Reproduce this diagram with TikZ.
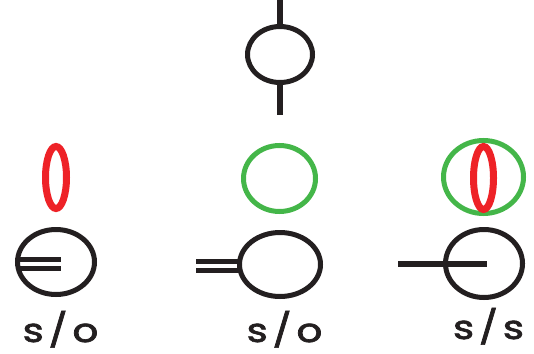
\documentclass[tikz,border=0pt]{standalone}
\usepackage{fontspec}
\setmainfont{Poppins}
\usetikzlibrary{shapes.geometric}
\definecolor{myred}{HTML}{EE2227}
\definecolor{mygreen}{HTML}{44B649}
\definecolor{myblack}{HTML}{231F20}
\newcommand{\widelbl}[1]{\scalebox{1.22}[1]{#1}}
\tikzset{
  ring/.style={ellipse, draw=myblack, line width=5pt, inner sep=0pt, outer sep=0pt},
  greenring/.style={ellipse, draw=mygreen, line width=5pt, inner sep=0pt, outer sep=0pt},
  redring/.style={ellipse, draw=myred, line width=7pt, inner sep=0pt, outer sep=0pt},
  wire/.style={draw=myblack, line width=5.5pt},
  lbl/.style={inner sep=0pt, anchor=base, font=\fontsize{33}{33}\selectfont\addfontfeature{FakeBold=2,LetterSpace=12}, text=myblack}
}
\begin{document}
\begin{tikzpicture}[x=1pt,y=-1pt]
\useasboundingbox (0,0) rectangle (534,353);
% top ellipse with stalk
\node[ring, minimum width=65pt, minimum height=56pt] (top) at (280,54.5) {};
\coordinate (topin) at (280,0);
\coordinate (topout) at (280,115);
\draw[wire] (topin) -- (top.north);
\draw[wire] (top.south) -- (topout);
% left column
\node[redring, minimum width=21pt, minimum height=62pt] (lred) at (56,177.5) {};
\node[ring, minimum width=77pt, minimum height=65pt] (lcirc) at (56,262) {};
\coordinate (la1) at (19,259);
\coordinate (lb1) at (60.5,259);
\coordinate (la2) at (19,268.5);
\coordinate (lb2) at (60.5,268.5);
\draw[wire, line width=5pt] (la1) -- (lb1);
\draw[wire, line width=5pt] (la2) -- (lb2);
\node[lbl] (llbl) at (60.5,342) {\widelbl{s/o}};
% middle column
\node[greenring, minimum width=72pt, minimum height=66pt] (mgreen) at (279.5,178.5) {};
\node[ring, minimum width=81pt, minimum height=64pt] (mcirc) at (280,264.5) {};
\coordinate (ma1) at (196,261.5);
\coordinate (ma2) at (196,270.5);
\draw[wire, line width=5pt] (ma1) -- (mcirc.west |- ma1);
\draw[wire, line width=5pt] (ma2) -- (mcirc.west |- ma2);
\node[lbl] (mlbl) at (284.5,342) {\widelbl{s/o}};
% right column
\node[greenring, minimum width=80pt, minimum height=73pt] (rgreen) at (483.5,177) {};
\node[redring, minimum width=20pt, minimum height=63pt] (rred) at (483.5,178) {};
\node[ring, minimum width=77pt, minimum height=68pt] (rcirc) at (484,263.5) {};
\coordinate (ra) at (398,263.5);
\coordinate (rb) at (487,263.5);
\draw[wire, line width=6pt] (ra) -- (rb);
\node[lbl] (rlbl) at (488.5,339) {\widelbl{s/s}};
\end{tikzpicture}
\end{document}
